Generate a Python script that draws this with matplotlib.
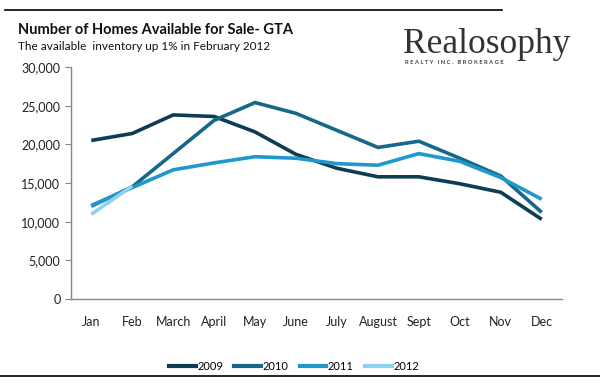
import numpy as np
import matplotlib
matplotlib.use("Agg")
import matplotlib.pyplot as plt
from matplotlib.lines import Line2D
from matplotlib.ticker import FuncFormatter

months = ["Jan", "Feb", "March", "April", "May", "June", "July",
          "August", "Sept", "Oct", "Nov", "Dec"]
homes_2009 = [20500, 21400, 23800, 23600, 21600, 18700, 16900, 15800, 15800, 14900, 13800, 10300]
homes_2010 = [12000, 14500, 18800, 23100, 25400, 24000, 21800, 19600, 20400, 18200, 15900, 11200]
homes_2011 = [12100, 14400, 16700, 17600, 18400, 18200, 17500, 17300, 18800, 17800, 15700, 12900]
homes_2012 = [10950, 14600]

series = [("2009", homes_2009, "#0d3c55"),
          ("2010", homes_2010, "#17678a"),
          ("2011", homes_2011, "#1f98cc"),
          ("2012", homes_2012, "#8fd2f0")]

plt.rcParams['font.family'] = ['Lato', 'DejaVu Sans']

fig = plt.figure(figsize=(6, 3.85), dpi=100)
ax = fig.add_axes([0.118, 0.2234, 0.819, 0.6026])

x = np.arange(len(months))
for name, vals, col in series:
    ax.plot(x[:len(vals)], vals, color=col, lw=2.6, solid_capstyle="butt", label=name)

ax.set_xlim(-0.5, 11.5)
ax.set_ylim(0, 30000)
ax.set_yticks(np.arange(0, 30001, 5000))
ax.yaxis.set_major_formatter(FuncFormatter(lambda v, p: f"{int(v):,}"))
ax.set_xticks(x)
ax.set_xticklabels(months)
ax.tick_params(axis="x", length=0, pad=12, labelsize=9, colors="#222222")
ax.tick_params(axis="y", length=4, width=0.8, color="#888888", labelsize=9, colors="#222222")
for s in ["top", "right"]:
    ax.spines[s].set_visible(False)
for s in ["left", "bottom"]:
    ax.spines[s].set_color("#888888")
    ax.spines[s].set_linewidth(1.0)

handles = [Line2D([], [], color=c, lw=3) for _, _, c in series]
fig.legend(handles, [n for n, _, _ in series], loc="center", bbox_to_anchor=(0.49, 0.048),
           ncol=4, frameon=False, fontsize=8, handlelength=2.4, handletextpad=0.15,
           columnspacing=1.0)

# frame lines
fig.add_artist(Line2D([0.008, 0.837], [0.974, 0.974], color="black", lw=1.2))
fig.add_artist(Line2D([0.0, 1.0], [0.023, 0.023], color="black", lw=1.2))

fig.text(0.03, 0.922, "Number of Homes Available for Sale- GTA", fontsize=10.5,
         fontweight="bold", va="center", color="#111111")
fig.text(0.03, 0.88, "The available  inventory up 1% in February 2012", fontsize=8.5,
         va="center", color="#111111")

fig.text(0.671, 0.885, "Realosophy", family="Liberation Serif", fontsize=25.5,
         va="center", ha="left", color="#333333")
fig.text(0.675, 0.838, "R E A L T Y   I N C .   B R O K E R A G E", fontsize=4.2,
         fontweight="bold", va="center", ha="left", color="#444444")

fig.savefig("out.png", dpi=100)
